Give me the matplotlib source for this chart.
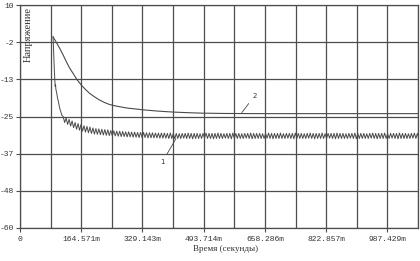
import numpy as np
import matplotlib
matplotlib.use("Agg")
import matplotlib.pyplot as plt
from matplotlib.ticker import MultipleLocator

# -------------------------------------------------
# Data (time in s, voltage)
# -------------------------------------------------
y_ticks_labels = ["10", "-2", "-13", "-25", "-37", "-48", "-60"]
x_ticks_labels = ["0", "164.571m", "329.143m", "493.714m",
                  "658.286m", "822.857m", "987.429m"]
x_major = 0.164571
x_end = 1.069714

# curve 2 : smooth decay
curve2_t = [0.0889, 0.0960, 0.1067, 0.1160, 0.1245, 0.1330, 0.1423, 0.1530,
            0.1645, 0.1760, 0.1867, 0.2000, 0.2134, 0.2270, 0.2400, 0.2530,
            0.2667, 0.2850, 0.3000, 0.3300, 0.3700, 0.4100, 0.4500, 0.4900,
            0.5500, 0.6500, 0.8000, 0.9500, 1.0700]
curve2_v = [0.0, -1.4, -3.6, -5.7, -7.8, -9.7, -11.4, -13.4,
            -15.1, -16.5, -17.7, -18.8, -19.8, -20.6, -21.2, -21.6,
            -21.9, -22.3, -22.5, -22.9, -23.3, -23.6, -23.8, -23.95,
            -24.05, -24.1, -24.1, -24.1, -24.1]

# curve 1 : steep drop, then ripple
head1_t = [0.0889, 0.0905, 0.0925, 0.0945, 0.0955, 0.0965, 0.0985,
           0.1005, 0.1035, 0.1065, 0.1095, 0.1125]
head1_v = [0.0, -5.0, -11.0, -15.5, -15.0, -16.5, -17.5,
           -19.0, -20.5, -22.3, -23.5, -24.6]

ripple_start = 0.116
ripple_step = 0.004
ripple_v = [
    -25.0, -26.9, -25.5, -27.5, -25.9, -28.0, -26.4, -28.5, -26.9, -29.0,
    -27.2, -29.3, -27.5, -29.6, -27.9, -29.9, -28.1, -30.1, -28.3, -30.3,
    -28.6, -30.5, -28.8, -30.6, -28.9, -30.7, -29.0, -30.8, -29.1, -30.9,
    -29.2, -31.0, -29.4, -31.1, -29.5, -31.1, -29.6, -31.2, -29.6, -31.3,
    -29.7, -31.3, -29.8, -31.4, -29.8, -31.4, -29.9, -31.5, -29.9, -31.5,
    -30.0, -31.6, -30.0, -31.6, -30.0, -31.6, -30.1, -31.7, -30.1, -31.7,
    -30.1, -31.7, -30.2, -31.7, -30.2, -31.8, -30.2, -31.8, -30.2, -31.8,
    -30.3, -31.9, -30.2, -31.9, -30.3, -32.0, -30.3, -31.9, -30.4, -31.9,
    -30.3, -31.8, -30.3, -31.9, -30.2, -31.9, -30.3, -32.0, -30.3, -31.9,
    -30.3, -31.9, -30.4, -31.9, -30.3, -31.8, -30.2, -31.9, -30.3, -31.9,
    -30.3, -32.0, -30.3, -31.9, -30.2, -31.9, -30.3, -31.9, -30.4, -31.8,
    -30.3, -31.9, -30.3, -32.0, -30.2, -31.9, -30.3, -31.9, -30.3, -31.9,
    -30.4, -31.9, -30.3, -31.8, -30.3, -31.9, -30.2, -32.0, -30.3, -31.9,
    -30.3, -31.9, -30.3, -31.9, -30.4, -31.9, -30.3, -31.8, -30.2, -31.9,
    -30.3, -32.0, -30.3, -31.9, -30.3, -31.9, -30.2, -31.9, -30.4, -31.9,
    -30.3, -31.8, -30.3, -31.9, -30.3, -32.0, -30.2, -31.9, -30.3, -31.9,
    -30.3, -31.9, -30.4, -31.9, -30.3, -31.8, -30.2, -31.9, -30.3, -32.0,
    -30.3, -31.9, -30.3, -31.9, -30.2, -31.9, -30.4, -31.9, -30.3, -31.8,
    -30.3, -31.9, -30.3, -32.0, -30.2, -31.9, -30.3, -31.9, -30.3, -31.9,
    -30.4, -31.9, -30.3, -31.8, -30.3, -31.9, -30.2, -32.0, -30.3, -31.9,
    -30.3, -31.9, -30.3, -31.9, -30.4, -31.9, -30.3, -31.8, -30.2, -31.9,
    -30.3, -32.0, -30.3, -31.9, -30.3, -31.9, -30.2, -31.9, -30.4, -31.9,
    -30.3, -31.8, -30.3, -31.9, -30.3, -32.0, -30.2, -31.9, -30.3, -31.9,
    -30.3, -31.9, -30.4, -31.9, -30.3, -31.8, -30.2, -31.9, -30.3, -32.0,
]

# labels "1" / "2" with leader lines
label1_xy = (0.419, -32.0)
label1_text = (0.383, -39.2)
label2_xy = (0.596, -23.8)
label2_text = (0.630, -18.6)

# -------------------------------------------------
# Plot
# -------------------------------------------------
ripple_t = ripple_start + ripple_step * np.arange(len(ripple_v))
curve1_t = np.concatenate([head1_t, ripple_t])
curve1_v = np.concatenate([head1_v, ripple_v])

grid_c = "#4d4d4d"
line_c = "#4a4a4a"

fig = plt.figure(figsize=(4.2, 2.61), dpi=100)
ax = fig.add_axes([20 / 420, 33 / 261, 398 / 420, 223 / 261])

ax.plot(curve2_t, curve2_v, color=line_c, lw=0.8)
ax.plot(curve1_t, curve1_v, color=line_c, lw=0.7)

ax.set_xlim(0, x_end)
ax.set_ylim(-60, 10)

ax.set_yticks(np.linspace(10, -60, len(y_ticks_labels)))
ax.set_yticklabels(y_ticks_labels)
ax.set_xticks([i * x_major for i in range(len(x_ticks_labels))])
ax.set_xticklabels(x_ticks_labels)
ax.xaxis.set_minor_locator(MultipleLocator(x_major / 2))

ax.grid(True, which="major", color=grid_c, lw=0.9)
ax.grid(True, which="minor", axis="x", color=grid_c, lw=0.9)
ax.tick_params(axis="both", which="major", length=3, width=0.8,
               color=grid_c, labelsize=5.8, labelcolor="#333333")
ax.tick_params(axis="x", which="major", pad=3)
ax.tick_params(axis="y", which="major", pad=1.5)
ax.tick_params(which="minor", length=0)
for lab in ax.get_xticklabels() + ax.get_yticklabels():
    lab.set_family("Liberation Mono")
for s in ax.spines.values():
    s.set_color(grid_c)
    s.set_linewidth(0.9)

ax.text(0.02, 0.99, "Напряжение", rotation=90, ha="center", va="top",
        transform=ax.transAxes, family="Liberation Serif", size=7.5,
        color="#333333")
fig.text(226 / 420, 12 / 261, "Время (секунды)", ha="center", va="center",
         family="Liberation Serif", size=6.5, color="#333333")

arrow = dict(arrowstyle="-", color=line_c, lw=0.6, shrinkA=1.5, shrinkB=0)
ax.annotate("1", xy=label1_xy, xytext=label1_text, arrowprops=arrow,
            ha="center", va="center", size=5, color="#333333")
ax.annotate("2", xy=label2_xy, xytext=label2_text, arrowprops=arrow,
            ha="center", va="center", size=5, color="#333333")

fig.savefig("out.png", dpi=100)
